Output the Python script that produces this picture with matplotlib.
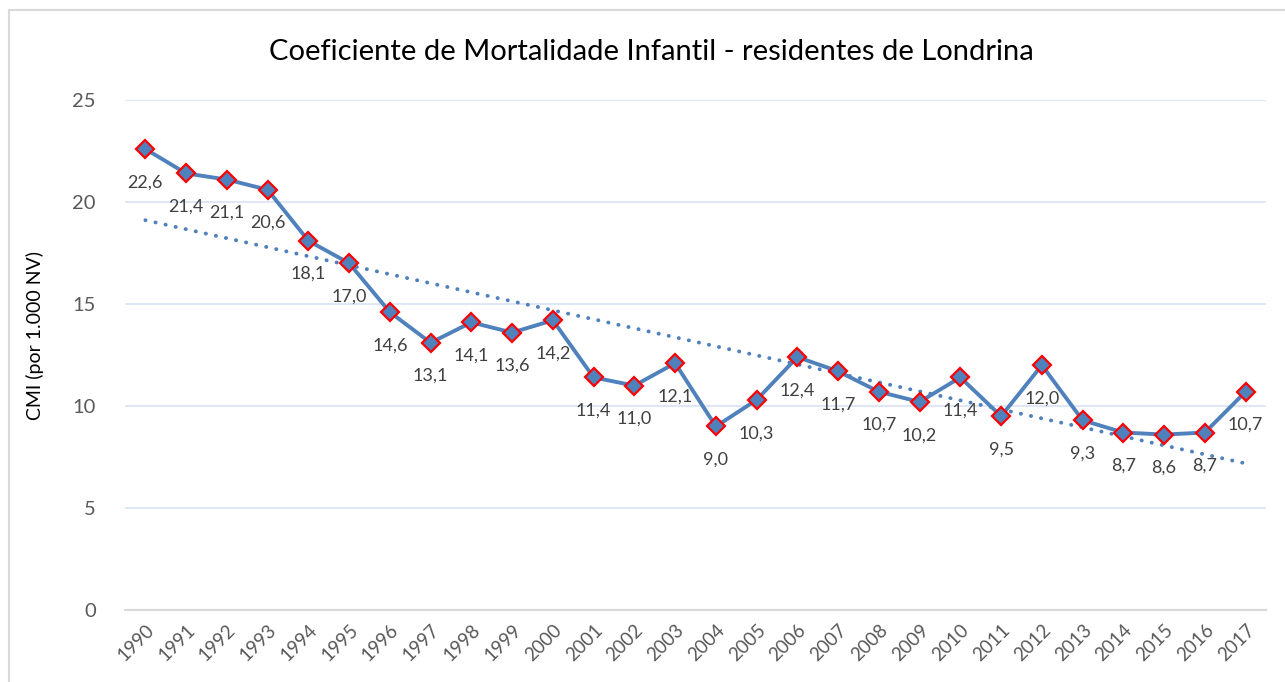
import matplotlib
matplotlib.use("Agg")
import matplotlib.pyplot as plt
from matplotlib.patches import Rectangle
import numpy as np

plt.rcParams['font.family'] = ['Lato', 'DejaVu Sans']

# dados
anos = [1990, 1991, 1992, 1993, 1994, 1995, 1996, 1997, 1998, 1999,
        2000, 2001, 2002, 2003, 2004, 2005, 2006, 2007, 2008, 2009,
        2010, 2011, 2012, 2013, 2014, 2015, 2016, 2017]
cmi = [22.6, 21.4, 21.1, 20.6, 18.1, 17.0, 14.6, 13.1, 14.1, 13.6,
       14.2, 11.4, 11.0, 12.1, 9.0, 10.3, 12.4, 11.7, 10.7, 10.2,
       11.4, 9.5, 12.0, 9.3, 8.7, 8.6, 8.7, 10.7]
yticks = [0, 5, 10, 15, 20, 25]

azul = '#4F81BD'

fig = plt.figure(figsize=(12.85, 6.82), dpi=100)
ax = fig.add_axes([125 / 1285, 1 - 610 / 682, (1266 - 125) / 1285, 510 / 682])

x = np.arange(len(anos))

# linha de tendencia linear (como no Excel)
coef = np.polyfit(x, cmi, 1)
ax.plot(x, np.polyval(coef, x), color=azul, lw=2.8,
        linestyle=(0, (0.05, 2.6)), dash_capstyle='round', zorder=2)

ax.plot(x, cmi, color=azul, lw=2.8, marker='D', markersize=9.5,
        markerfacecolor=azul, markeredgecolor='#FF0000', markeredgewidth=1.6,
        zorder=3)

for xi, v in zip(x, cmi):
    ax.annotate(f"{v:.1f}".replace('.', ','), (xi, v), xytext=(0, -24),
                textcoords='offset points', ha='center', va='center',
                fontsize=13, color='#404040')

ax.set_xlim(-0.5, len(anos) - 0.5)
ax.set_ylim(0, 25)
ax.set_yticks(yticks)
ax.set_yticklabels([str(t) for t in yticks], fontsize=14.5, color='#595959')
ax.set_xticks(x)
ax.set_xticklabels([str(a) for a in anos], rotation=45, ha='right',
                   rotation_mode='anchor', fontsize=13.5, color='#595959')
ax.tick_params(axis='both', length=0)
ax.tick_params(axis='y', pad=21)
ax.tick_params(axis='x', pad=8)

ax.grid(axis='y', color='#D9E2F3', lw=1.2)
ax.set_axisbelow(True)
for s in ['top', 'right', 'left']:
    ax.spines[s].set_visible(False)
ax.spines['bottom'].set_color('#D9D9D9')
ax.spines['bottom'].set_linewidth(1.5)

fig.text(35 / 1285, 1 - 336 / 682, 'CMI (por 1.000 NV)', rotation=90,
         ha='center', va='center', fontsize=14, color='black')
fig.text(651 / 1285, 1 - 52 / 682,
         'Coeficiente de Mortalidade Infantil - residentes de Londrina',
         ha='center', va='center', fontsize=21, color='black')

# borda da area do grafico
fig.patches.append(Rectangle((9 / 1285, -0.1), 1.2, 1.1 - 10 / 682,
                             transform=fig.transFigure, fill=False,
                             edgecolor='#D9D9D9', lw=1.5))

fig.savefig('out.png', dpi=100)
